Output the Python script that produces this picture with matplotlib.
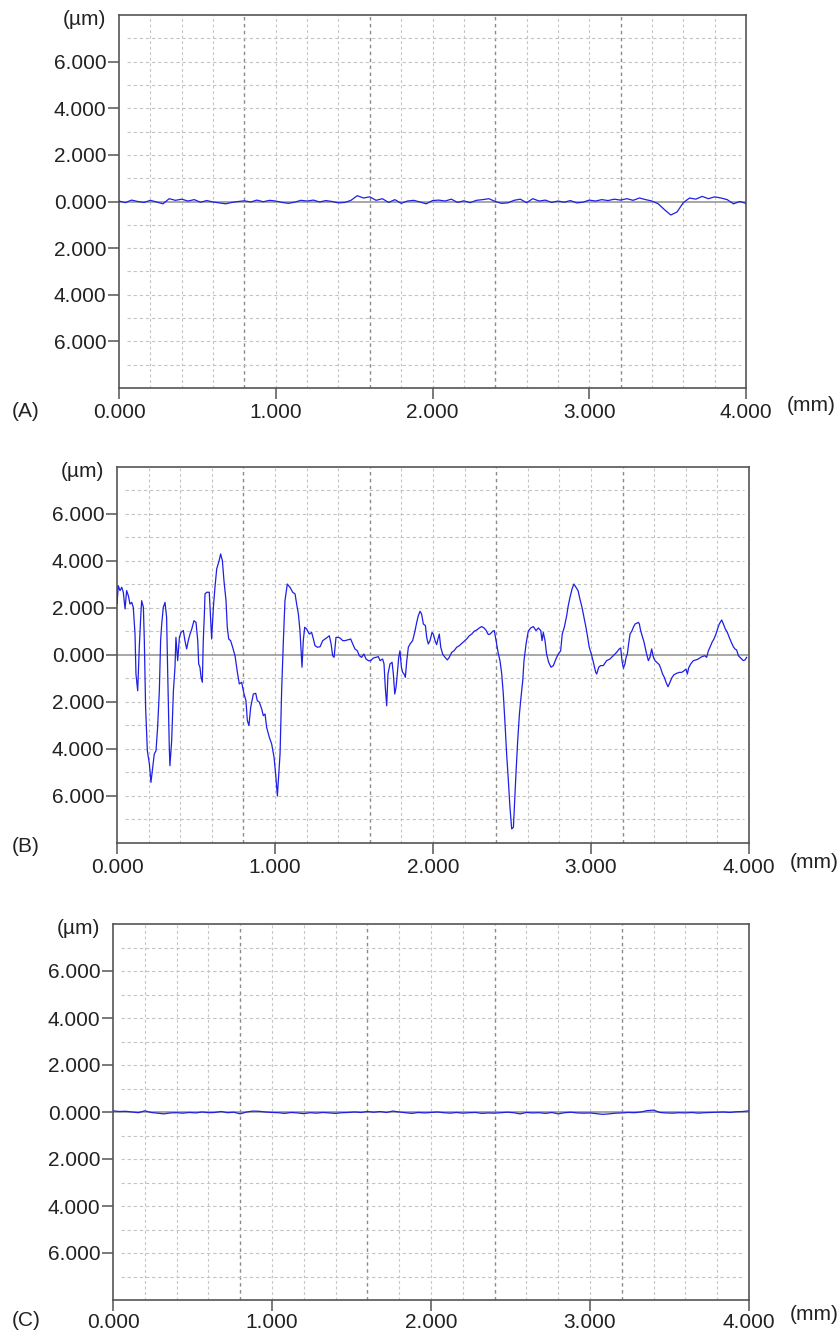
#!/usr/bin/env python3
# -*- coding: utf-8 -*-
import numpy as np
import matplotlib
matplotlib.use('Agg')
import matplotlib.pyplot as plt

plt.rcParams['font.family'] = ['Liberation Sans', 'DejaVu Sans']

# profile (A): height in um, sampled every 0.04 mm from 0 to 4 mm
profile_a = [
    0.02, -0.05, 0.06, 0.00, -0.04, 0.05, -0.02, -0.10, 0.12, 0.05, 0.10,
    0.02, 0.08, -0.03, 0.04, -0.02, -0.06, -0.10, -0.04, 0.00, 0.03,
    -0.02, 0.06, -0.01, 0.05, 0.02, -0.04, -0.08, -0.03, 0.05, 0.02,
    0.06, -0.02, 0.04, 0.00, -0.06, -0.04, 0.05, 0.25, 0.15, 0.20,
    0.05, 0.12, -0.04, 0.08, -0.08, 0.02, 0.05, -0.02, -0.10, 0.04,
    0.06, 0.02, 0.10, -0.04, 0.03, -0.05, 0.05, 0.08, 0.12, 0.00,
    -0.08, -0.06, 0.05, 0.10, -0.05, 0.12, 0.02, 0.06, -0.04, 0.02,
    -0.03, 0.04, -0.06, -0.03, 0.06, 0.02, 0.08, 0.04, 0.10, 0.06,
    0.12, 0.05, 0.15, 0.08, 0.02, -0.10, -0.35, -0.58, -0.45, -0.05,
    0.15, 0.10, 0.22, 0.12, 0.20, 0.15, 0.08, -0.10, 0.00, -0.08,
]

profile_b_x = [
    0.000, 0.008, 0.019, 0.030, 0.040, 0.051, 0.061, 0.072, 0.082, 0.093,
    0.103, 0.114, 0.120, 0.131, 0.141, 0.150, 0.156, 0.167, 0.173, 0.181,
    0.192, 0.205, 0.215, 0.226, 0.236, 0.247, 0.257, 0.268, 0.276, 0.283,
    0.293, 0.304, 0.314, 0.321, 0.331, 0.335, 0.346, 0.357, 0.367, 0.373,
    0.384, 0.395, 0.405, 0.420, 0.430, 0.441, 0.451, 0.462, 0.473, 0.487,
    0.500, 0.511, 0.517, 0.525, 0.532, 0.540, 0.546, 0.553, 0.557, 0.568,
    0.584, 0.589, 0.599, 0.610, 0.620, 0.631, 0.646, 0.656, 0.667, 0.677,
    0.690, 0.698, 0.707, 0.719, 0.732, 0.747, 0.762, 0.774, 0.789, 0.804,
    0.816, 0.825, 0.835, 0.846, 0.863, 0.878, 0.888, 0.901, 0.916, 0.926,
    0.937, 0.947, 0.964, 0.979, 0.994, 1.004, 1.010, 1.015,
    1.032, 1.042, 1.053, 1.063, 1.078, 1.095, 1.112, 1.127, 1.137, 1.148,
    1.158, 1.165, 1.171, 1.179, 1.188, 1.200, 1.217, 1.232, 1.243, 1.253,
    1.268, 1.285, 1.302, 1.317, 1.331, 1.344, 1.355, 1.365, 1.374, 1.386,
    1.401, 1.412, 1.429, 1.443, 1.464, 1.479, 1.492, 1.506, 1.521, 1.534,
    1.548, 1.563, 1.576, 1.591, 1.606, 1.622, 1.639, 1.654, 1.665, 1.681,
    1.690, 1.698, 1.707, 1.715, 1.728, 1.741, 1.749, 1.758, 1.766, 1.774,
    1.783, 1.791, 1.800, 1.808, 1.817, 1.825, 1.834, 1.844, 1.855, 1.871,
    1.884, 1.897, 1.907, 1.918, 1.928, 1.939, 1.952, 1.960, 1.970, 1.981,
    1.994, 2.002, 2.013, 2.023, 2.034, 2.040, 2.049, 2.061, 2.076, 2.091,
    2.103, 2.118, 2.133, 2.150, 2.167, 2.213, 2.230, 2.245, 2.260, 2.276,
    2.293, 2.308, 2.323, 2.335, 2.350, 2.361, 2.378, 2.388, 2.399, 2.414,
    2.424, 2.435, 2.445, 2.456, 2.466, 2.477, 2.487, 2.498, 2.509, 2.515,
    2.525, 2.536, 2.547, 2.557, 2.568, 2.576, 2.589, 2.603, 2.618, 2.635,
    2.652, 2.667, 2.682, 2.690, 2.698, 2.709, 2.719, 2.732, 2.747, 2.762,
    2.778, 2.793, 2.808, 2.818, 2.831, 2.846, 2.856, 2.867, 2.880, 2.892,
    2.905, 2.918, 2.930, 2.943, 2.956, 2.968, 2.979, 2.989, 3.002, 3.015,
    3.030, 3.036, 3.049, 3.061, 3.078, 3.099, 3.120, 3.141, 3.162, 3.179,
    3.188, 3.196, 3.205, 3.215, 3.222, 3.230, 3.238, 3.247, 3.260, 3.268,
    3.279, 3.289, 3.300, 3.306, 3.314, 3.327, 3.336, 3.344, 3.352, 3.363,
    3.373, 3.384, 3.395, 3.405, 3.416, 3.432, 3.443, 3.453, 3.464, 3.475,
    3.487, 3.500, 3.513, 3.525, 3.542, 3.559, 3.574, 3.589, 3.601, 3.610,
    3.618, 3.631, 3.648, 3.664, 3.679, 3.694, 3.707, 3.721, 3.732, 3.743,
    3.753, 3.766, 3.778, 3.791, 3.801, 3.812, 3.827, 3.838, 3.850, 3.863,
    3.875, 3.888, 3.901, 3.911, 3.922, 3.933, 3.943, 3.954, 3.964, 3.975,
    3.985,
]
profile_b_y = [
    2.17, 2.95, 2.74, 2.88, 2.67, 1.96, 2.74, 2.52, 2.17, 2.24,
    2.03, 0.89, -0.81, -1.52, 0.33, 1.60, 2.31, 2.03, 0.61, -2.23,
    -4.07, -4.64, -5.42, -4.78, -4.21, -4.07, -3.08, -1.52, 0.61, 1.32,
    2.03, 2.24, 1.60, -0.81, -3.93, -4.71, -3.65, -1.52, -0.52, 0.75,
    -0.24, 0.75, 0.96, 1.04, 0.61, 0.26, 0.61, 0.89, 1.10, 1.46,
    1.39, 0.61, -0.38, -0.52, -0.95, -1.16, 0.61, 1.74, 2.60, 2.67,
    2.67, 2.03, 0.68, 2.03, 2.88, 3.66, 4.01, 4.30, 4.01, 3.16,
    2.31, 1.18, 0.68, 0.61, 0.33, -0.03, -0.74, -1.23, -1.16, -1.66,
    -1.94, -2.79, -3.00, -2.23, -1.66, -1.63, -1.94, -2.01, -2.30, -2.58,
    -2.51, -3.08, -3.50, -3.79, -4.35, -5.06, -5.60, -6.00,
    -4.21, -1.52, 0.61, 2.31, 3.02, 2.88, 2.67, 2.60, 2.17, 1.74,
    1.04, 0.18, -0.52, 0.61, 1.18, 1.11, 0.89, 0.96, 0.68, 0.40,
    0.33, 0.35, 0.61, 0.68, 0.75, 0.82, 0.47, -0.03, -0.10, 0.75,
    0.75, 0.72, 0.61, 0.61, 0.65, 0.68, 0.47, 0.26, 0.18, -0.03,
    -0.10, 0.04, -0.17, -0.24, -0.24, -0.13, -0.10, -0.07, -0.24, -0.17,
    -0.38, -1.38, -2.16, -0.81, -0.38, -0.31, -0.81, -1.66, -1.38, -0.81,
    -0.10, 0.18, -0.52, -0.74, -0.81, -0.95, -0.24, 0.33, 0.47, 0.61,
    0.96, 1.39, 1.67, 1.86, 1.74, 1.32, 1.25, 0.75, 0.47, 0.61,
    0.96, 0.89, 0.61, 0.44, 0.75, 0.89, 0.33, 0.04, -0.10, -0.21,
    -0.10, 0.11, 0.18, 0.33, 0.40, 0.68, 0.82, 0.89, 1.01, 1.06,
    1.15, 1.21, 1.15, 1.06, 0.87, 0.89, 1.01, 1.04, 0.61, 0.04,
    -0.24, -0.81, -1.66, -2.94, -4.21, -5.35, -6.48, -7.40, -7.33, -6.48,
    -5.06, -3.65, -2.51, -1.80, -1.09, -0.24, 0.47, 1.01, 1.15, 1.21,
    1.04, 1.15, 1.04, 0.61, 0.96, 0.61, 0.04, -0.31, -0.52, -0.45,
    -0.17, 0.04, 0.18, 0.89, 1.18, 1.67, 2.10, 2.45, 2.81, 3.02,
    2.88, 2.74, 2.38, 2.03, 1.60, 1.18, 0.75, 0.33, 0.04, -0.31,
    -0.74, -0.81, -0.52, -0.45, -0.45, -0.24, -0.17, -0.03, 0.11, 0.26,
    0.30, -0.24, -0.55, -0.38, -0.10, 0.04, 0.47, 0.89, 1.04, 1.18,
    1.32, 1.35, 1.39, 1.32, 1.04, 0.75, 0.54, 0.30, 0.04, -0.24,
    -0.10, 0.26, -0.10, -0.24, -0.31, -0.41, -0.60, -0.81, -0.95, -1.16,
    -1.35, -1.16, -0.95, -0.84, -0.78, -0.74, -0.74, -0.67, -0.60, -0.81,
    -0.55, -0.38, -0.24, -0.21, -0.17, -0.10, -0.06, -0.03, -0.10, 0.18,
    0.33, 0.54, 0.68, 0.89, 1.11, 1.32, 1.49, 1.32, 1.11, 0.96,
    0.75, 0.54, 0.35, 0.26, 0.21, -0.03, -0.10, -0.17, -0.24, -0.21,
    -0.10,
]

# profile (C): height in um, sampled every 0.04 mm
profile_c = [
    0.05, 0.02, 0.03, 0.00, -0.03, 0.05, -0.02, -0.05, -0.08, -0.04, -0.03,
    -0.05, -0.02, -0.04, 0.00, -0.03, -0.02, 0.02, -0.03, -0.01, -0.08,
    0.00, 0.04, 0.03, 0.00, -0.02, -0.03, -0.06, -0.02, -0.04, -0.07,
    -0.03, -0.05, -0.02, -0.04, -0.06, -0.03, -0.02, 0.00, -0.02, 0.02,
    -0.01, 0.02, -0.02, 0.04, 0.00, -0.03, -0.06, -0.02, -0.04, -0.02,
    0.00, -0.03, -0.05, -0.02, -0.05, -0.03, -0.02, -0.06, -0.04, -0.05,
    -0.03, -0.01, -0.03, -0.08, -0.02, -0.04, -0.03, -0.06, -0.02, -0.08,
    -0.03, -0.01, -0.04, -0.05, -0.04, -0.07, -0.10, -0.08, -0.05, -0.04,
    -0.02, -0.03, 0.00, 0.06, 0.08, -0.02, -0.04, -0.05, -0.03, -0.04,
    -0.02, -0.05, -0.03, -0.02, -0.01, 0.00, -0.02, 0.01, 0.02, 0.05,
]

x_ticks = [0, 1, 2, 3, 4]
x_tick_labels = ['0.000', '1.000', '2.000', '3.000', '4.000']
y_ticks = [-6, -4, -2, 0, 2, 4, 6]
y_tick_labels = ['6.000', '4.000', '2.000', '0.000', '2.000', '4.000', '6.000']
panel_names = ['(A)', '(B)', '(C)']

W, H = 839, 1333
FS = 15
LINE_BLUE = '#1f1fe6'


def setup_axes(ax, xpad):
    ax.set_xlim(0, 4)
    ax.set_ylim(-8, 8)
    # grid: verticals every 0.2 mm, darker every 0.8 mm
    for i in range(1, 20):
        xv = i * 0.2
        dark = (i % 4 == 0)
        ax.axvline(xv, color='#8a8a8a' if dark else '#c4c4c4',
                   lw=1.0 if dark else 0.8, ls=(0, (2.5, 2.5)), zorder=1)
    for yv in range(-7, 8):
        if yv == 0:
            continue
        ax.hlines(yv, 0.05, 3.97, color='#c4c4c4', lw=0.8,
                  ls=(0, (3, 2.5)), zorder=1)
    ax.axhline(0, color='#909090', lw=1.1, zorder=2)

    ax.set_xticks(x_ticks)
    ax.set_xticklabels(x_tick_labels)
    ax.set_yticks(y_ticks)
    ax.set_yticklabels(y_tick_labels)
    ax.tick_params(axis='both', direction='out', length=8, width=1.1,
                   color='#555555', labelsize=FS, labelcolor='#222222')
    ax.tick_params(axis='y', pad=1)
    ax.tick_params(axis='x', pad=xpad)
    for s in ax.spines.values():
        s.set_color('#555555')
        s.set_linewidth(1.2)

    ax.annotate('(\u00b5m)', xy=(0, 1), xycoords='axes fraction',
                xytext=(-13, -5), textcoords='offset pixels',
                ha='right', va='center', fontsize=FS, color='#222222')


def place(fig, left, right, top, bottom):
    return fig.add_axes([left / W, 1 - bottom / H,
                         (right - left) / W, (bottom - top) / H])


if __name__ == '__main__':
    fig = plt.figure(figsize=(W / 100, H / 100), dpi=100)
    grid_x = np.arange(len(profile_a)) * 0.04

    boxes = [(119, 746, 15, 388), (117, 749, 467, 843), (113, 749, 924, 1300)]
    xpads = [3.0, 2.5, 1.0]
    label_y = [411, 847, 1320]
    unit_y = [405, 862, 1315]
    series = [(grid_x, profile_a), (profile_b_x, profile_b_y),
              (np.arange(len(profile_c)) * 0.04, profile_c)]

    for k, (box, (xs, ys)) in enumerate(zip(boxes, series)):
        ax = place(fig, *box)
        setup_axes(ax, xpads[k])
        ax.plot(xs, ys, color=LINE_BLUE, lw=0.9, zorder=3)
        fig.text(12 / W, 1 - label_y[k] / H, panel_names[k], fontsize=FS,
                 ha='left', va='center', color='#222222')
        fig.text((box[1] + 41) / W, 1 - unit_y[k] / H, '(mm)', fontsize=FS,
                 ha='left', va='center', color='#222222')

    fig.savefig('out.png', dpi=100)
